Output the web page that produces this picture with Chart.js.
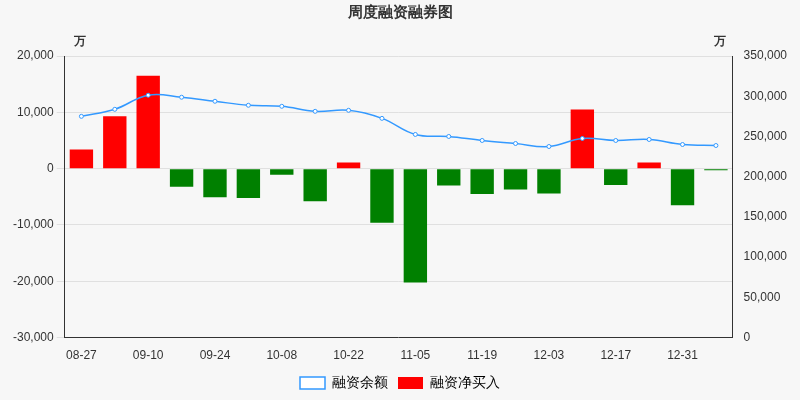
<!DOCTYPE html><html><head><script src="https://cdn.jsdelivr.net/npm/chart.js@4"></script>
<style>body{margin:0;background:#f7f7f7}</style></head><body><canvas id="c" width="800" height="400" style="width:800px;height:400px"></canvas>
<script>
const categories=['08-27','09-03','09-10','09-17','09-24','10-01','10-08','10-15','10-22','10-29','11-05','11-12','11-19','11-26','12-03','12-10','12-17','12-24','12-31','01-07'];
const netBuy=[3400,9300,16500,-3200,-5100,-5200,-1100,-5800,1100,-9600,-20200,-3000,-4500,-3700,-4400,10500,-2900,1100,-6500,-300];
const balance=[275000,283750,301250,298750,293750,288750,287500,281250,282500,272500,252500,250000,245000,241250,237500,247500,245000,246250,240000,238750];
const font={family:'Liberation Sans, Arial',size:12};
const unitPlugin={id:'u',afterDraw(ch){const x=ch.ctx;x.save();x.font='bold 12px Liberation Sans';x.fillStyle='#333';x.textAlign='center';x.fillText('万',80,42);x.fillText('万',720,42);x.restore();}};
new Chart(document.getElementById('c'),{data:{labels:categories,datasets:[
{type:'line',label:'融资余额',data:balance,yAxisID:'y1',borderColor:'#3399ff',backgroundColor:'#fff',borderWidth:1.5,pointRadius:2,pointBorderWidth:1,pointBorderColor:'#3399ff',tension:0.4,order:0},
{type:'bar',label:'融资净买入',data:netBuy,yAxisID:'y',backgroundColor:netBuy.map(v=>v>=0?'#ff0000':'#008000'),categoryPercentage:0.7,barPercentage:1,order:1}]},
options:{responsive:false,devicePixelRatio:1,animation:false,layout:{padding:{left:10,right:10,top:0,bottom:0}},
plugins:{title:{display:true,text:'周度融资融券图',color:'#333',font:{family:'Liberation Sans',size:15,weight:'bold'},padding:{top:4,bottom:34}},
legend:{position:'bottom',labels:{color:'#333',font:{family:'Liberation Sans',size:14},boxWidth:25,boxHeight:12,
generateLabels:()=>[{text:'融资余额',fillStyle:'#fff',strokeStyle:'#3399ff',lineWidth:1.5},{text:'融资净买入',fillStyle:'#ff0000',strokeStyle:'#ff0000',lineWidth:0}]}},tooltip:{enabled:false}},
scales:{x:{grid:{display:false},border:{color:'#333'},ticks:{color:'#333',font,autoSkip:false,maxRotation:0,callback:(v,i)=>i%2==0?categories[i]:''}},
y:{position:'left',min:-30000,max:20000,ticks:{stepSize:10000,color:'#333',font},grid:{color:'#e0e0e0'},border:{color:'#333'}},
y1:{position:'right',min:0,max:350000,ticks:{stepSize:50000,color:'#333',font},grid:{display:false},border:{color:'#333'}}}},
plugins:[unitPlugin]});
</script></body></html>
